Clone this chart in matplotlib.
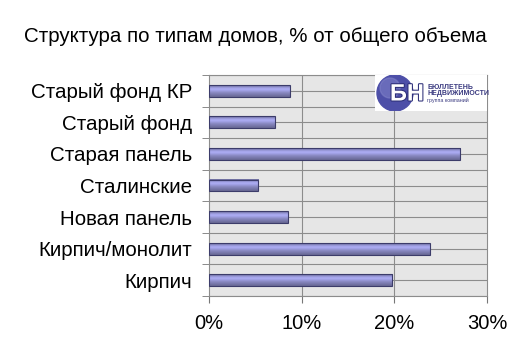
import matplotlib.pyplot as plt
import matplotlib.patheffects as pe
import numpy as np
from matplotlib.patches import Rectangle, Circle

plt.rcParams['font.family'] = ['Liberation Sans', 'DejaVu Sans']

categories = ['Кирпич', 'Кирпич/монолит', 'Новая панель', 'Сталинские',
              'Старая панель', 'Старый фонд', 'Старый фонд КР']
values = [19.8, 23.8, 8.5, 5.3, 27.1, 7.1, 8.7]
xticks = [0, 10, 20, 30]
xticklabels = ['0%', '10%', '20%', '30%']

fig = plt.figure(figsize=(5.10, 3.61), dpi=100)
ax = fig.add_axes([209 / 510, 1 - 296 / 361, 278 / 510, 221 / 361])
ax.set_facecolor('#e6e6e6')

n = len(categories)

# grid at category centres and boundaries
for y in np.arange(-0.5, n, 0.5):
    ax.axhline(y, color='#8c8c8c', lw=0.8, zorder=1)
for x in xticks[1:-1]:
    ax.axvline(x, color='#8c8c8c', lw=0.8, zorder=1)

# cylinder-like bars
h = 0.38
shade = np.array([0.35, 0.6, 0.85, 0.95, 0.85, 0.7, 0.55, 0.45, 0.35, 0.25])
base = np.array([0.60, 0.60, 0.85])
grad = np.clip(base[None, :] * (0.55 + 0.6 * shade[:, None]), 0, 1)
for i, v in enumerate(values):
    ax.imshow(grad[:, None, :], extent=[0, v, i - h / 2, i + h / 2],
              aspect='auto', zorder=3, interpolation='bilinear')
    ax.add_patch(Rectangle((0, i - h / 2), v, h, fill=False,
                           edgecolor='#3c3c6a', lw=0.8, zorder=4))
ax.set_xlim(0, 30)
ax.set_ylim(-0.5, n - 0.5)

ax.set_yticks(range(n))
ax.set_yticklabels(categories, fontsize=14.8)
ax.set_yticks(np.arange(-0.5, n, 1), minor=True)
ax.tick_params(axis='y', which='major', length=0, pad=12)
ax.tick_params(axis='y', which='minor', length=5, color='#777777')
ax.set_xticks(xticks)
ax.set_xticklabels(xticklabels, fontsize=14.5)
ax.tick_params(axis='x', length=5, color='#777777', pad=8)
for s in ax.spines.values():
    s.set_color('#8c8c8c')
    s.set_linewidth(0.8)

# logo block
lax = fig.add_axes([375 / 510, 1 - 111 / 361, 112 / 510, 36 / 361])
lax.set_xlim(0, 112)
lax.set_ylim(36, 0)
lax.axis('off')
lax.add_patch(Rectangle((0, 0), 112, 36, color='white', zorder=0))
lax.add_patch(Circle((20, 18), 18, color='#4d4fa8', zorder=1))
lax.add_patch(Circle((15, 13), 10, color='#8587cc', zorder=1, alpha=0.5))
lax.text(32, 19, 'БН', color='white', fontsize=17, fontweight='bold',
         ha='center', va='center', zorder=2,
         path_effects=[pe.withStroke(linewidth=1.5, foreground='#2d2f78')])
lax.text(52, 13, 'БЮЛЛЕТЕНЬ', fontsize=5, fontweight='bold', color='#3a3a80',
         va='center')
lax.text(52, 19, 'НЕДВИЖИМОСТИ', fontsize=5, fontweight='bold', color='#3a3a80',
         va='center')
lax.text(52, 25.5, 'группа компаний', fontsize=3.8, color='#3a3a80', va='center')

fig.text(0.5, 1 - 37 / 361, 'Структура по типам домов, % от общего объема',
         ha='center', va='center', fontsize=14.8)

fig.savefig('out.png', dpi=100)
